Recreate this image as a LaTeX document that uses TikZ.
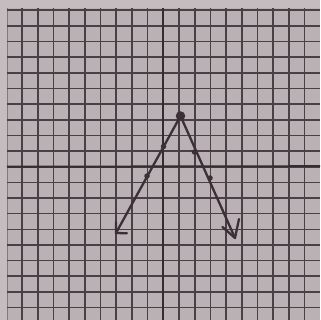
\documentclass[tikz,border=0pt]{standalone}
\definecolor{paper}{RGB}{186,177,180}
\definecolor{paperlight}{RGB}{196,188,190}
\definecolor{gridc}{RGB}{72,64,70}
\definecolor{ink}{RGB}{58,48,54}
\tikzset{
  gridline/.style={gridc, line width=1.6pt},
  axisline/.style={gridc!70!black, line width=2pt},
  graphline/.style={ink, line width=2.3pt, line cap=round, line join=round},
  smalldot/.style={ink, circle, fill, inner sep=0pt, minimum size=5.5pt},
  bigdot/.style={ink, circle, fill, inner sep=0pt, minimum size=9.5pt}
}
\begin{document}
\begin{tikzpicture}[x=1pt,y=-1pt]
\useasboundingbox (0,0) rectangle (320,320);
\fill[paperlight] (0,0) rectangle (320,320);
\fill[paper] (7,8) rectangle (320,320);
% grid
\foreach \k in {-9,...,9} {
  \draw[gridline] ({163.3+15.7*\k},8) -- ({163.3+15.7*\k},320);
}
\draw[gridc!50!paper, line width=1.2pt] (7.5,8) -- (7.5,320);
\foreach \k in {-10,...,9} {
  \draw[gridline] (7,{166.7+15.65*\k}) -- (320,{166.7+15.65*\k});
}
% axes
\draw[axisline] (163.3,8) -- (163.3,320);
\draw[axisline] (7,166.7) -- (320,166.2);
% graph
\coordinate (v) at (180.5,116);
\coordinate (l) at (116,233);
\coordinate (r) at (235,238);
\draw[graphline] (l) -- (v) -- (r);
\draw[graphline] (127,233.3) -- (l) -- (116,222);
\draw[graphline] (222.5,227) -- (r) -- (239,219);
\node[bigdot] (vd) at (v) {};
\node[smalldot] (l1) at (163.5,146.5) {};
\node[smalldot] (l2) at (147,176) {};
\node[smalldot] (r1) at (194.5,152) {};
\node[smalldot] (r2) at (210,178) {};
\end{tikzpicture}
\end{document}
